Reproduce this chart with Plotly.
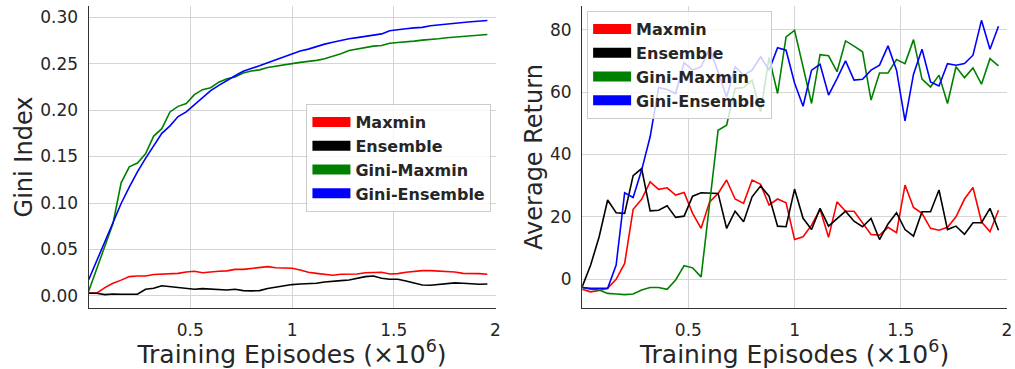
import plotly.graph_objects as go

# Training episodes (x 1e6), one evaluation every 0.04M steps
episodes = [round(0.04 * i, 2) for i in range(50)]

series_names = ["Maxmin", "Ensemble", "Gini-Maxmin", "Gini-Ensemble"]
series_colors = ["#ff0000", "#000000", "#008000", "#0000ff"]

# Gini index of the value estimates
gini_maxmin = [0.003, 0.003, 0.009, 0.0136, 0.017, 0.0208, 0.0215, 0.0215, 0.023, 0.0236,
               0.0236, 0.0243, 0.0258, 0.0265, 0.025, 0.026, 0.0265, 0.027, 0.0286, 0.0286,
               0.0293, 0.0308, 0.0315, 0.0304, 0.030, 0.0297, 0.028, 0.0254, 0.0243, 0.0236,
               0.0222, 0.0233, 0.0236, 0.0236, 0.025, 0.0254, 0.0254, 0.0236, 0.024, 0.0254,
               0.0265, 0.0272, 0.0272, 0.0268, 0.0265, 0.0258, 0.0243, 0.0243, 0.024, 0.0233]
gini_ensemble = [0.0029, 0.0029, 0.0014, 0.0021, 0.0018, 0.0018, 0.0018, 0.0072, 0.0082, 0.011,
                 0.010, 0.0093, 0.0079, 0.0072, 0.0079, 0.0072, 0.0072, 0.0064, 0.0072, 0.0057,
                 0.0054, 0.0057, 0.0079, 0.0093, 0.011, 0.0122, 0.0129, 0.0129, 0.0136, 0.015,
                 0.0154, 0.0165, 0.0172, 0.019, 0.0208, 0.0215, 0.019, 0.018, 0.018, 0.0161,
                 0.0136, 0.0118, 0.0115, 0.0125, 0.0136, 0.014, 0.0136, 0.0129, 0.0125, 0.0129]
gini_gini_maxmin = [0.0047, 0.029, 0.054, 0.078, 0.1217, 0.139, 0.143, 0.153, 0.172, 0.180,
                    0.198, 0.204, 0.207, 0.2166, 0.222, 0.224, 0.230, 0.2338, 0.2356, 0.240,
                    0.242, 0.2433, 0.2458, 0.247, 0.248, 0.250, 0.2513, 0.252, 0.2535, 0.2553,
                    0.2578, 0.2606, 0.2642, 0.2656, 0.2678, 0.2688, 0.2695, 0.272, 0.2727, 0.2731,
                    0.2742, 0.2753, 0.2757, 0.2767, 0.2778, 0.2785, 0.2792, 0.280, 0.2807, 0.2814]
gini_gini_ensemble = [0.0172, 0.0376, 0.058, 0.078, 0.0995, 0.117, 0.1335, 0.148, 0.161, 0.175,
                      0.183, 0.193, 0.198, 0.206, 0.214, 0.221, 0.2266, 0.232, 0.237, 0.2417,
                      0.2445, 0.2477, 0.251, 0.254, 0.257, 0.2606, 0.2635, 0.2656, 0.2685, 0.271,
                      0.273, 0.275, 0.2767, 0.278, 0.2795, 0.2805, 0.282, 0.2853, 0.2868, 0.2875,
                      0.2885, 0.289, 0.2907, 0.2918, 0.2925, 0.2936, 0.2943, 0.295, 0.2957, 0.2964]

# Average evaluation return
ret_maxmin = [-3.3, -4.1, -3.7, -3.0, -0.1, 5.0, 22.4, 25.6, 31.2, 28.8,
              29.3, 27.0, 27.8, 21.1, 16.3, 24.8, 27.5, 31.8, 25.7, 24.3,
              31.8, 30.4, 23.8, 25.7, 24.5, 12.7, 13.6, 17.3, 22.4, 13.4,
              24.8, 21.8, 21.8, 18.1, 14.3, 14.1, 16.6, 14.9, 30.2, 23.0,
              21.1, 16.3, 15.7, 16.6, 20.0, 25.7, 29.4, 18.4, 15.2, 22.1]
ret_ensemble = [-2.5, 4.5, 13.6, 25.4, 21.3, 21.1, 33.2, 35.5, 21.9, 22.1,
                23.5, 19.8, 20.2, 26.6, 27.7, 27.5, 27.5, 16.3, 21.8, 18.4,
                26.4, 29.9, 26.6, 17.0, 16.8, 28.9, 19.5, 15.9, 22.7, 17.0,
                19.5, 21.8, 18.6, 16.8, 19.5, 12.7, 17.7, 21.3, 15.9, 13.8,
                21.6, 21.6, 28.6, 15.9, 17.0, 14.4, 18.1, 18.1, 22.7, 15.7]
ret_gini_maxmin = [-2.7, -3.3, -3.5, -4.6, -4.8, -5.0, -4.8, -3.5, -2.7, -2.7,
                   -3.3, -0.3, 4.3, 3.6, 0.7, 24.5, 47.8, 49.4, 61.2, 61.5,
                   63.9, 53.7, 71.2, 59.6, 77.8, 79.9, 68.0, 56.4, 72.1, 71.7,
                   66.6, 76.5, 74.8, 73.0, 57.5, 66.2, 66.2, 70.5, 69.2, 76.9,
                   64.2, 61.7, 65.5, 56.4, 68.2, 64.7, 67.8, 62.6, 70.8, 68.5]
ret_gini_ensemble = [-2.7, -3.0, -3.0, -3.0, 4.5, 27.7, 26.2, 35.0, 45.7, 61.5,
                     60.9, 59.6, 69.5, 67.1, 68.2, 74.1, 66.5, 58.5, 68.2, 65.5,
                     67.1, 71.4, 67.1, 74.3, 73.5, 63.0, 55.5, 67.1, 69.0, 59.1,
                     64.4, 70.1, 63.9, 64.2, 67.1, 68.7, 74.9, 67.1, 50.8, 65.8,
                     73.8, 63.3, 62.0, 69.2, 68.7, 69.2, 71.9, 83.1, 73.8, 81.2]

x_tickvals = [0.5, 1, 1.5, 2]
x_ticktext = ["0.5", "1", "1.5", "2"]
gini_tickvals = [0.0, 0.05, 0.10, 0.15, 0.20, 0.25, 0.30]
return_tickvals = [0, 20, 40, 60, 80]

FONT = "DejaVu Sans"
TEXT = "#262626"
GRID = "#d5d5d5"

fig = go.Figure()

panels = [
    ("x", "y", "legend", [gini_maxmin, gini_ensemble, gini_gini_maxmin, gini_gini_ensemble]),
    ("x2", "y2", "legend2", [ret_maxmin, ret_ensemble, ret_gini_maxmin, ret_gini_ensemble]),
]

for xa, ya, leg, curves in panels:
    for name, color, values in zip(series_names, series_colors, curves):
        fig.add_trace(go.Scatter(
            x=episodes, y=values, mode="lines", xaxis=xa, yaxis=ya,
            line=dict(color=color, width=1.6), showlegend=False, hoverinfo="skip",
        ))
    # legend entries drawn as thick colour swatches
    for name, color in zip(series_names, series_colors):
        fig.add_trace(go.Scatter(
            x=[None], y=[None], mode="lines", xaxis=xa, yaxis=ya,
            line=dict(color=color, width=12), name=name, legend=leg,
            legendgroup=leg + name, showlegend=True,
        ))

axis_common = dict(
    showgrid=True, gridcolor=GRID, gridwidth=1, zeroline=False,
    showline=True, linecolor="#333333", linewidth=1.3,
    ticks="", tickfont=dict(family=FONT, size=17, color=TEXT),
    ticklabelstandoff=6,
)
xtitle = dict(text="Training Episodes (×10<sup>6</sup>)", font=dict(family=FONT, size=25, color=TEXT), standoff=5)

legend_common = dict(
    font=dict(family=FONT, size=16, color=TEXT, weight="bold"),
    bgcolor="rgba(255,255,255,0.8)", bordercolor="#cccccc", borderwidth=1,
    xanchor="left", yanchor="top", itemwidth=38, tracegroupgap=0,
    itemclick=False, itemdoubleclick=False,
)

fig.update_layout(
    width=1015, height=369,
    margin=dict(l=0, r=0, t=0, b=0),
    paper_bgcolor="white", plot_bgcolor="white",
    font=dict(family=FONT, color=TEXT),
    xaxis=dict(domain=[0.0877, 0.4906], range=[0, 2], tickvals=x_tickvals, ticktext=x_ticktext,
               title=xtitle, anchor="y", **axis_common),
    yaxis=dict(domain=[0.1653, 0.9837], range=[-0.013, 0.312], tickvals=gini_tickvals,
               tickformat=".2f", anchor="x",
               title=dict(text="Gini Index", font=dict(family=FONT, size=24, color=TEXT), standoff=0),
               **axis_common),
    xaxis2=dict(domain=[0.5764, 0.997], range=[0, 2], tickvals=x_tickvals, ticktext=x_ticktext,
                title=xtitle, anchor="y2", **axis_common),
    yaxis2=dict(domain=[0.1653, 0.9837], range=[-9.3, 87.7], tickvals=return_tickvals,
                anchor="x2",
                title=dict(text="Average Return", font=dict(family=FONT, size=24, color=TEXT), standoff=0),
                **axis_common),
    legend=dict(x=0.3034, y=0.718, **legend_common),
    legend2=dict(x=0.5813, y=0.970, **legend_common),
)

fig.write_html("out.html")
